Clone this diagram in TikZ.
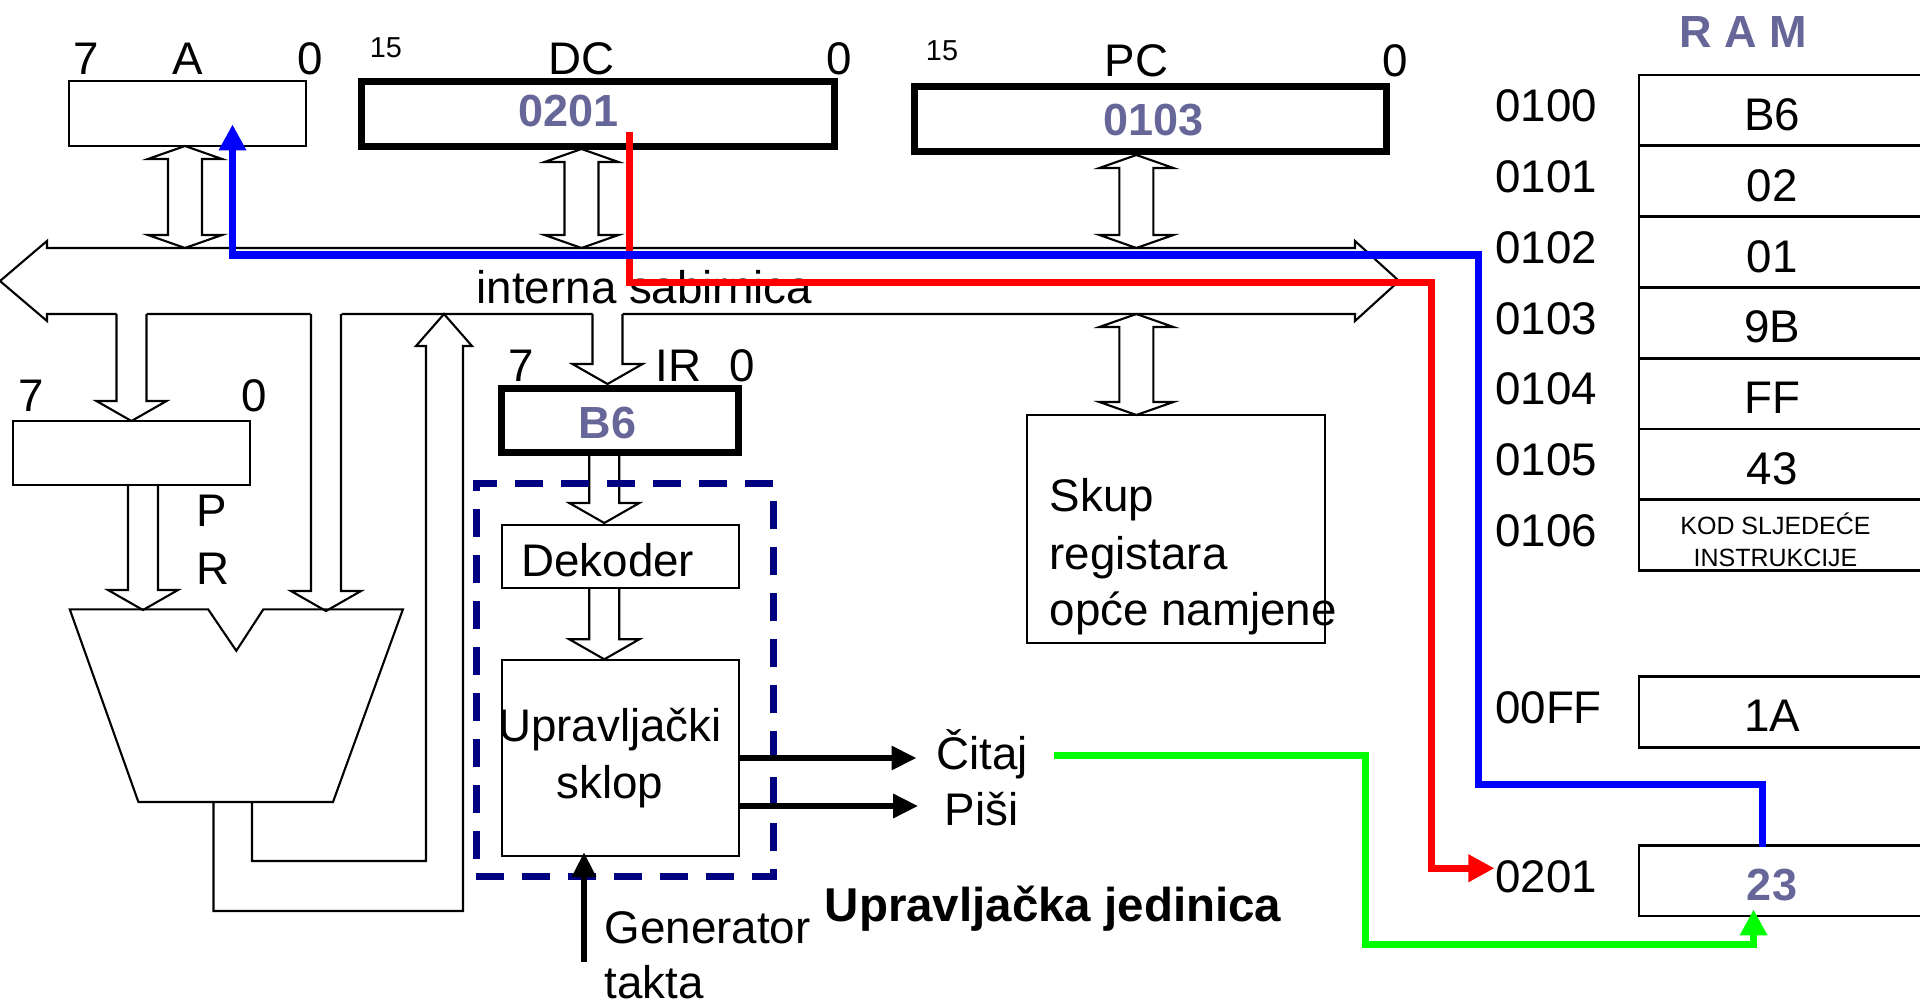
\documentclass[tikz,border=0pt]{standalone}
\usepackage{fontspec}
\setmainfont{Liberation Sans}
\usepackage{xcolor}
\usepackage{tikz}
\usetikzlibrary{arrows.meta, positioning, calc}
\definecolor{regval}{RGB}{102,102,153}
\definecolor{cunavy}{RGB}{0,0,128}
\definecolor{rdblue}{RGB}{0,0,255}
\definecolor{rdred}{RGB}{255,0,0}
\definecolor{rdgreen}{RGB}{0,255,0}

\begin{document}
\begin{tikzpicture}[x=0.01cm, y=-0.01cm,
  lbl/.style={anchor=base, inner sep=0pt, font=\fontsize{13}{16}\selectfont},
  adr/.style={anchor=base west, inner sep=0pt, font=\fontsize{13}{16}\selectfont},
  bit/.style={anchor=base, inner sep=0pt, font=\fontsize{8.2}{10}\selectfont},
  kod/.style={anchor=base, inner sep=0pt, font=\fontsize{7.1}{9}\selectfont},
  val/.style={anchor=base, inner sep=0pt, font=\fontsize{12.8}{15}\selectfont\bfseries, text=regval},
  reg/.style={rectangle, draw, line width=0.6pt, inner sep=0pt},
  thickreg/.style={rectangle, draw, line width=0.07cm, inner sep=0pt},
  cell/.style={rectangle, draw, line width=0.8pt, inner sep=0pt, minimum width=3cm, minimum height=0.708cm},
  unit/.style={rectangle, draw=cunavy, line width=0.07cm, dash pattern=on 0.28cm off 0.18cm, inner sep=0pt},
  hollow/.style={draw, line width=0.6pt},
  pics/dblarr/.style={code={\draw[hollow] (0,0) -- (37,13) -- (17,13) -- (17,{#1-13}) -- (37,{#1-13}) -- (0,#1) -- (-37,{#1-13}) -- (-17,{#1-13}) -- (-17,13) -- (-37,13) -- cycle;}},
  pics/sglarr/.style={code={\draw[hollow] (-15,0) -- (-15,{#1-20}) -- (-35,{#1-20}) -- (0,#1) -- (35,{#1-20}) -- (15,{#1-20}) -- (15,0);}},
  ctl/.style={line width=0.06cm, -{Triangle[length=0.25cm, width=0.23cm]}},
  route/.style={line width=0.07cm, -{Triangle[length=0.26cm, width=0.26cm]}}
]
\path[use as bounding box] (0,0) rectangle (1920,1003);
\clip (0,0) rectangle (1920,1003);
% Registri A, DC, PC
\node[reg, minimum width=2.37cm, minimum height=0.65cm] (rega) at (187.5,113.5) {};
\node[lbl] (rega7) at (86,74) {7};
\node[lbl] (regan) at (188,74) {A};
\node[lbl] (rega0) at (310,74) {0};
\node[thickreg, minimum width=4.72cm, minimum height=0.64cm] (dc) at (598,114) {};
\node[bit] (dc15) at (386,57.3) {15};
\node[lbl] (dcn) at (581.5,74) {DC};
\node[lbl] (dc0) at (839,74) {0};
\node[val] (dcval) at (568.3,126.7) {0201};
\node[thickreg, minimum width=4.71cm, minimum height=0.64cm] (pc) at (1150.5,119) {};
\node[bit] (pc15) at (942,60.7) {15};
\node[lbl] (pcn) at (1136.4,76.7) {PC};
\node[lbl] (pc0) at (1395.6,76.7) {0};
\node[val] (pcval) at (1153.5,136) {0103};
% Interna sabirnica
\draw[hollow] (116.5,314) -- (47,314) -- (47,321) -- (0,281) -- (47,241) -- (47,248) -- (1355,248) -- (1355,241) -- (1399,281) -- (1355,321) -- (1355,314) -- (622.5,314) (592.5,314) -- (341.5,314) (310.5,314) -- (146.5,314);
\node[lbl] (bus) at (644.4,303.3) {interna sabirnica};
\pic at (185,146) {dblarr=102};
\pic at (581.5,149) {dblarr=99};
\pic at (1136.4,155) {dblarr=93};
\pic at (1136.4,314) {dblarr=101};
\pic at (131.5,314) {sglarr=107};
\pic at (326,314) {sglarr=297};
\pic at (607.5,314) {sglarr=70};
% PR i ALU
\node[reg, minimum width=2.365cm, minimum height=0.64cm] (pr) at (131.75,453) {};
\node[lbl] (pr7) at (31.7,411.7) {7};
\node[lbl] (pr0) at (254.7,411.7) {0};
\node[lbl] (prp) at (212,526) {P};
\node[lbl] (prr) at (213,584) {R};
\pic at (143,485) {sglarr=125};
\draw[hollow] (69.8,609.4) -- (208.2,609.4) -- (236.3,650.8) -- (263.3,609.4) -- (402.9,609.4) -- (333,802) -- (138.4,802) -- cycle;
\draw[hollow] (252,802) -- (252,861) -- (426,861) -- (426,346) -- (416,346) -- (444,314) -- (472,346) -- (463,346) -- (463,911) -- (213.5,911) -- (213.5,802);
% IR i upravljacka jedinica
\node[thickreg, minimum width=2.364cm, minimum height=0.636cm] (ir) at (620.2,420.5) {};
\node[lbl] (ir7) at (520.8,381.7) {7};
\node[lbl] (irn) at (678.3,381.7) {IR};
\node[lbl] (ir0) at (742.5,381.7) {0};
\node[val] (irval) at (607.7,438.3) {B6};
\pic at (604.3,455) {sglarr=68};
\node[reg, minimum width=2.37cm, minimum height=0.633cm] (dek) at (620.2,556.7) {};
\node[lbl] (dekt) at (607.8,576) {Dekoder};
\pic at (604.3,588.3) {sglarr=71};
\node[reg, minimum width=2.37cm, minimum height=1.96cm] (uprav) at (620.5,758) {};
\node[lbl] (upr1) at (610,741) {Upravljački};
\node[lbl] (upr2) at (610,798) {sklop};
\node[unit, minimum width=2.973cm, minimum height=3.92cm] (cu) at (625,680) {};
\node[lbl, font=\fontsize{13.5}{16}\selectfont\bfseries] (cuname) at (1053,921.7) {Upravljačka jedinica};
\node[lbl] (citaj) at (982,769.6) {Čitaj};
\node[lbl] (pisi) at (981.7,825) {Piši};
\node[adr] (gen1) at (604,943) {Generator};
\node[adr] (gen2) at (604,998) {takta};
% Skup registara
\node[reg, minimum width=2.98cm, minimum height=2.28cm] (skup) at (1176,529) {};
\node[adr] (skup1) at (1049,511.7) {Skup};
\node[adr] (skup2) at (1049,569.4) {registara};
\node[adr] (skup3) at (1049,625) {opće namjene};
% RAM
\node[val] (ramt) at (1743.4,47.3) {R A M};
\node[cell] (m0) at (1789,110.4) {};
\node[cell] (m1) at (1789,181.2) {};
\node[cell] (m2) at (1789,252) {};
\node[cell] (m3) at (1789,322.8) {};
\node[cell] (m4) at (1789,393.6) {};
\node[cell] (m5) at (1789,464.4) {};
\node[cell] (m6) at (1789,535.2) {};
\node[cell, minimum height=0.713cm] (mff) at (1789,712) {};
\node[cell, minimum height=0.706cm] (m201) at (1789,880.7) {};
\node[adr] (a0) at (1494.5,121.7) {0100};
\node[adr] (a1) at (1494.5,192.5) {0101};
\node[adr] (a2) at (1494.5,263.3) {0102};
\node[adr] (a3) at (1494.5,334.1) {0103};
\node[adr] (a4) at (1494.5,404.9) {0104};
\node[adr] (a5) at (1494.5,475.7) {0105};
\node[adr] (a6) at (1494.5,546.5) {0106};
\node[adr] (aff) at (1494.5,723.1) {00FF};
\node[adr] (a201) at (1494.5,892) {0201};
\node[lbl] (v0) at (1772,130.5) {B6};
\node[lbl] (v1) at (1772,201.3) {02};
\node[lbl] (v2) at (1772,272.1) {01};
\node[lbl] (v3) at (1772,342.9) {9B};
\node[lbl] (v4) at (1772,413.7) {FF};
\node[lbl] (v5) at (1772,484.5) {43};
\node[kod] (v6a) at (1775.5,534.8) {KOD SLJEDEĆE};
\node[kod] (v6b) at (1775.5,566.4) {INSTRUKCIJE};
\node[lbl] (vff) at (1772,731.9) {1A};
\node[val] (v201) at (1772,900.9) {23};
% Upravljacki signali
\draw[ctl] (uprav.east) -- ([xshift=-0.19cm]citaj.west |- uprav.east);
\draw[ctl] ($(uprav.east)+(0,48)$) -- ($(pisi.west |- uprav.east)+(-26,48)$);
\coordinate (clk) at (584,962);
\draw[ctl] (clk) -- ($(clk |- uprav.south)+(0,-5)$);
% Tok podataka
\draw[route, draw=rdred] ($(dc.center)+(31.7,17.7)$) |- (1431.7,282.7) |- ($(a201.west)+(0,-8)$);
\draw[route, draw=rdblue] ($(m201.north)+(-26.5,3)$) |- (1478.8,784.2) |- (232.5,255) -- ($(rega.south)+(45,-22.7)$);
\draw[route, draw=rdgreen] ($(citaj.base east)+(26,-14)$) -| (1365,944.8) -| ($(m201.south)+(-35.4,-8)$);
\end{tikzpicture}
\end{document}
